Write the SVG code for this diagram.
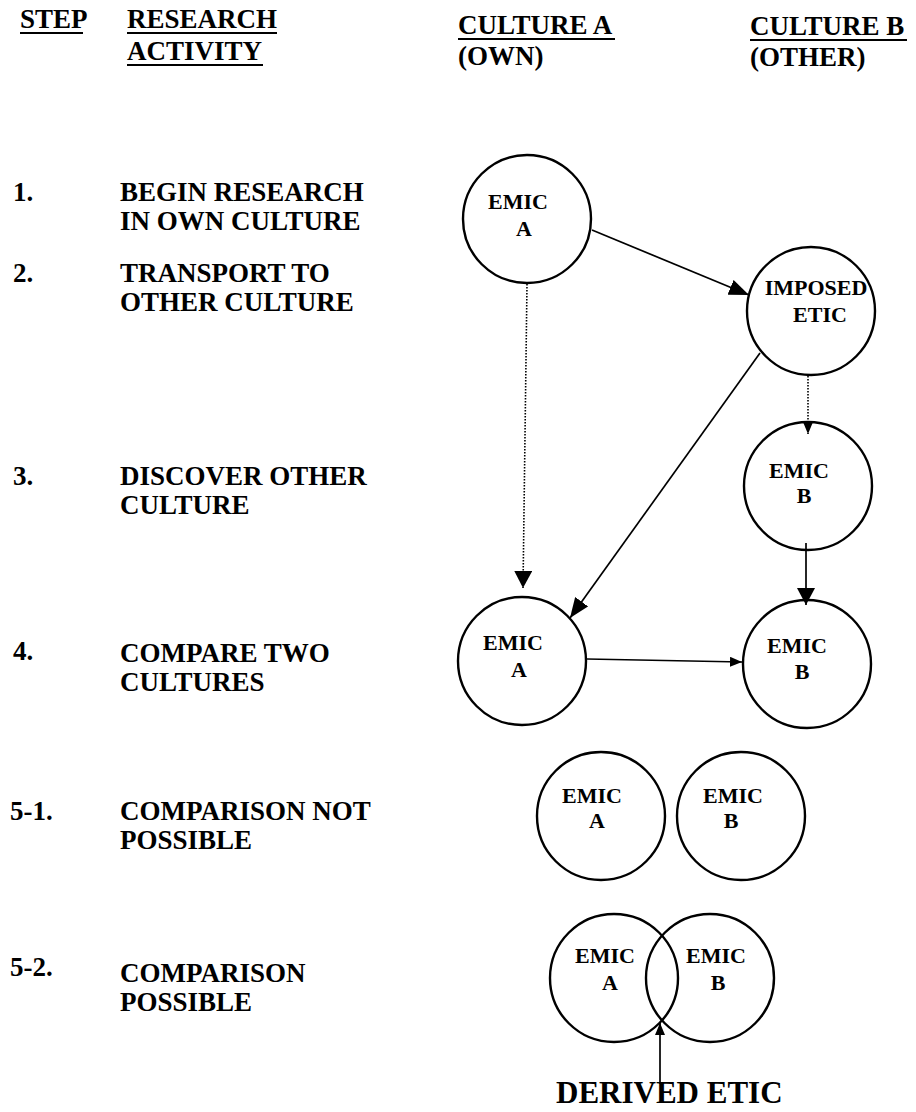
<svg xmlns="http://www.w3.org/2000/svg" width="916" height="1112" viewBox="0 0 916 1112">
<style>
text{font-family:"Liberation Serif","Times New Roman",serif;font-weight:bold;fill:#000}
.h{font-size:27px}
.l{font-size:27px}
.c{font-size:22px}
.d{font-size:31px}
.node circle{fill:none;stroke:#000;stroke-width:2.4}
.ul{stroke:#000;stroke-width:2}
.con line{stroke:#000;stroke-width:1.7;fill:none}
.con .dot{stroke-dasharray:1.5 1.5;stroke-width:1.6}
</style>
<defs>
<marker id="aL" viewBox="0 0 20 16" markerUnits="userSpaceOnUse" markerWidth="20" markerHeight="16" refX="20" refY="8" orient="auto"><path d="M0,0 L20,8 L0,16 z" fill="#000"/></marker>
<marker id="aM" viewBox="0 0 17 18" markerUnits="userSpaceOnUse" markerWidth="17" markerHeight="18" refX="17" refY="9" orient="auto"><path d="M0,0 L17,9 L0,18 z" fill="#000"/></marker>
<marker id="aS" viewBox="0 0 12 10" markerUnits="userSpaceOnUse" markerWidth="12" markerHeight="10" refX="12" refY="5" orient="auto"><path d="M0,0 L12,5 L0,10 z" fill="#000"/></marker>
</defs>

<g id="header">
<text class="h" x="20" y="28">STEP</text>
<line class="ul" x1="20" y1="33" x2="83" y2="33"/>
<text class="h" x="127" y="28">RESEARCH</text>
<line class="ul" x1="127" y1="33" x2="277" y2="33"/>
<text class="h" x="127" y="60">ACTIVITY</text>
<line class="ul" x1="127" y1="65" x2="263" y2="65"/>
<text class="h" x="458" y="34">CULTURE A</text>
<line class="ul" x1="458" y1="39" x2="615" y2="39"/>
<text class="h" x="458" y="65">(OWN)</text>
<text class="h" x="750" y="35">CULTURE B</text>
<line class="ul" x1="750" y1="40" x2="907" y2="40"/>
<text class="h" x="750" y="66">(OTHER)</text>
</g>

<g id="steps">
<text class="l" x="13" y="201">1.</text>
<text class="l" x="120" y="201">BEGIN RESEARCH</text>
<text class="l" x="120" y="230">IN OWN CULTURE</text>
<text class="l" x="13" y="282">2.</text>
<text class="l" x="120" y="282">TRANSPORT TO</text>
<text class="l" x="120" y="311">OTHER CULTURE</text>
<text class="l" x="13" y="485">3.</text>
<text class="l" x="120" y="485">DISCOVER OTHER</text>
<text class="l" x="120" y="514">CULTURE</text>
<text class="l" x="13" y="660">4.</text>
<text class="l" x="120" y="662">COMPARE TWO</text>
<text class="l" x="120" y="691">CULTURES</text>
<text class="l" x="10" y="820">5-1.</text>
<text class="l" x="120" y="820">COMPARISON NOT</text>
<text class="l" x="120" y="849">POSSIBLE</text>
<text class="l" x="10" y="976">5-2.</text>
<text class="l" x="120" y="982">COMPARISON</text>
<text class="l" x="120" y="1011">POSSIBLE</text>
</g>

<g id="n1" class="node"><circle cx="527" cy="219" r="64"/><text class="c" x="518" y="209" text-anchor="middle">EMIC</text><text class="c" x="524" y="236" text-anchor="middle">A</text></g>
<g id="n2" class="node"><circle cx="811" cy="311" r="64"/><text class="c" x="816" y="295" text-anchor="middle">IMPOSED</text><text class="c" x="820" y="322" text-anchor="middle">ETIC</text></g>
<g id="n3" class="node"><circle cx="808" cy="486" r="64"/><text class="c" x="799" y="478" text-anchor="middle">EMIC</text><text class="c" x="804" y="503" text-anchor="middle">B</text></g>
<g id="n4" class="node"><circle cx="522" cy="661" r="64"/><text class="c" x="513" y="650" text-anchor="middle">EMIC</text><text class="c" x="519" y="677" text-anchor="middle">A</text></g>
<g id="n5" class="node"><circle cx="807" cy="664" r="64"/><text class="c" x="797" y="653" text-anchor="middle">EMIC</text><text class="c" x="802" y="679" text-anchor="middle">B</text></g>
<g id="n6" class="node"><circle cx="601" cy="816" r="64"/><text class="c" x="592" y="803" text-anchor="middle">EMIC</text><text class="c" x="597" y="828" text-anchor="middle">A</text></g>
<g id="n7" class="node"><circle cx="741" cy="816" r="64"/><text class="c" x="733" y="803" text-anchor="middle">EMIC</text><text class="c" x="731" y="828" text-anchor="middle">B</text></g>
<g id="n8" class="node"><circle cx="614" cy="978" r="64"/><text class="c" x="605" y="963" text-anchor="middle">EMIC</text><text class="c" x="610" y="990" text-anchor="middle">A</text></g>
<g id="n9" class="node"><circle cx="710" cy="978" r="64"/><text class="c" x="716" y="963" text-anchor="middle">EMIC</text><text class="c" x="718" y="990" text-anchor="middle">B</text></g>

<g id="connectors" class="con">
<line x1="592" y1="230" x2="749" y2="295" marker-end="url(#aL)"/>
<line class="dot" x1="527" y1="284" x2="523" y2="588" marker-end="url(#aM)"/>
<line x1="760" y1="353" x2="570" y2="618" marker-end="url(#aL)"/>
<line class="dot" x1="808" y1="376" x2="808" y2="434" marker-end="url(#aS)"/>
<line x1="806" y1="543" x2="806" y2="605" marker-end="url(#aM)"/>
<line x1="587" y1="659" x2="742" y2="662" marker-end="url(#aS)"/>
<line x1="660" y1="1084" x2="660" y2="1023" marker-end="url(#aS)"/>
</g>

<g id="derived">
<text class="d" x="556" y="1103">DERIVED ETIC</text>
</g>
</svg>
